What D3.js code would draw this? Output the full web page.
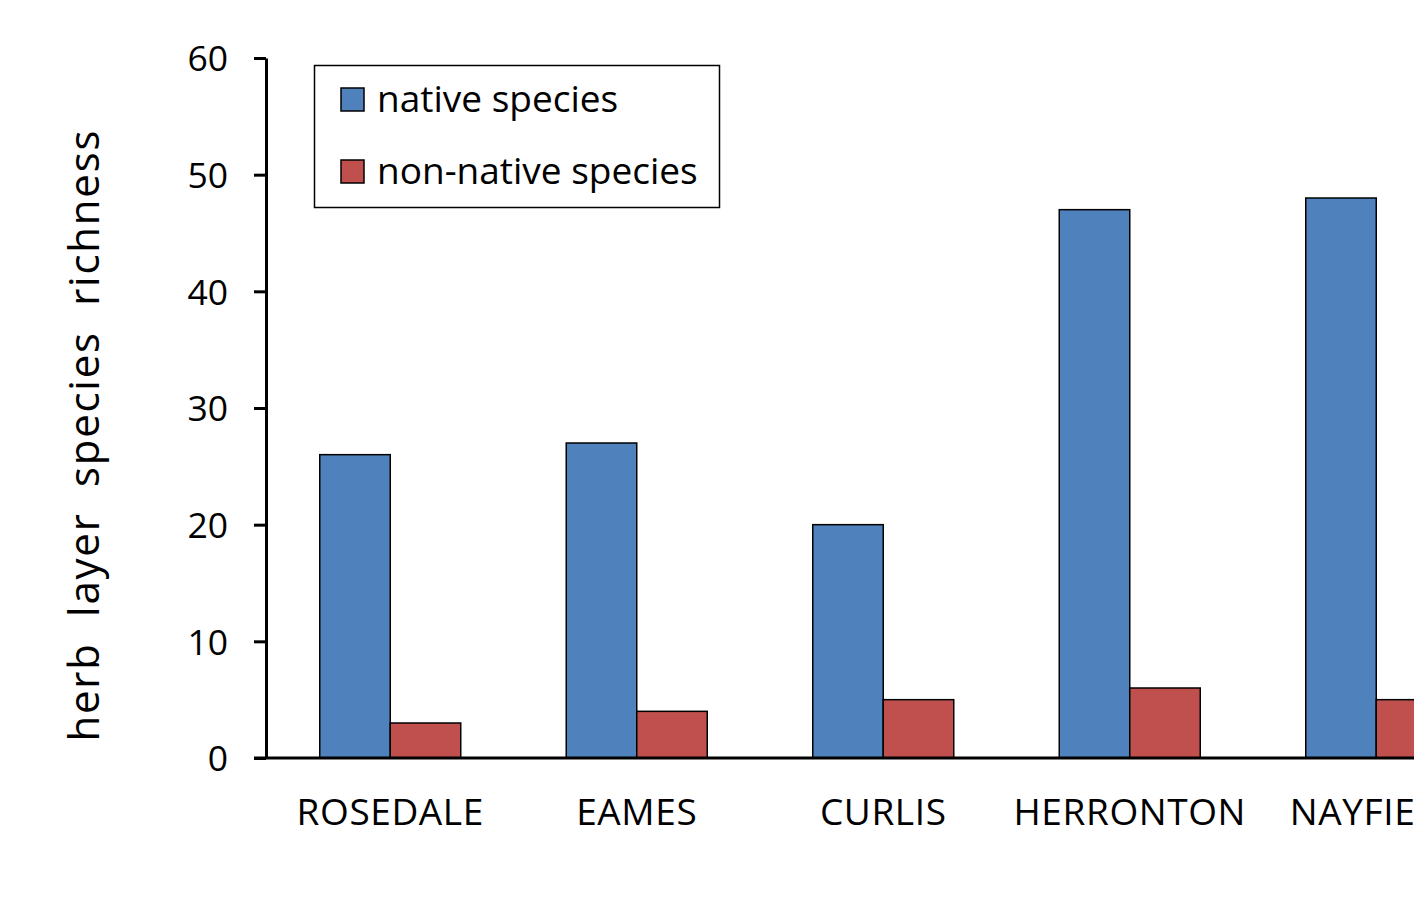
<!DOCTYPE html>
<html>
<head>
<meta charset="utf-8">
<script src="https://cdn.jsdelivr.net/npm/d3@7"></script>
<style>
  html, body { margin: 0; padding: 0; background: #fff; overflow: hidden; }
  svg { display: block; font-family: "Open Sans", Lato, sans-serif; }
</style>
</head>
<body>
<svg id="chart" width="1414" height="900"></svg>
<script>
// Sites and herb-layer species counts
const sites = ["ROSEDALE", "EAMES", "CURLIS", "HERRONTON", "NAYFIELD"];
const seriesNames = ["native species", "non-native species"];
const nativeCounts = [26, 27, 20, 47, 48];
const nonNativeCounts = [3, 4, 5, 6, 5];
const yTicks = [0, 10, 20, 30, 40, 50, 60];
const seriesColors = ["#4F81BD", "#C0504D"];

const svg = d3.select("#chart");
const FONT = "'Open Sans', Lato, sans-serif";

const x0 = 267, step = 246.5;
const x = d3.scaleBand()
  .domain(sites)
  .range([x0, x0 + step * sites.length])
  .paddingInner(0.428)
  .paddingOuter(0.214);

const xs = d3.scaleBand()
  .domain(seriesNames)
  .range([0, x.bandwidth()]);

const y = d3.scaleLinear().domain([0, 60]).range([758, 58]);

const rows = sites.map((s, i) => ({ site: s, values: [nativeCounts[i], nonNativeCounts[i]] }));

// bars
const groups = svg.append("g").selectAll("g")
  .data(rows).join("g")
  .attr("transform", d => `translate(${x(d.site)},0)`);

groups.selectAll("rect")
  .data(d => d.values.map((v, k) => ({ v, k })))
  .join("rect")
  .attr("x", d => xs(seriesNames[d.k]))
  .attr("width", xs.bandwidth())
  .attr("y", d => y(d.v))
  .attr("height", d => y(0) - y(d.v))
  .attr("fill", d => seriesColors[d.k])
  .attr("stroke", "#000")
  .attr("stroke-width", 1.5);

// y axis
const yAxis = svg.append("g")
  .attr("transform", "translate(266,0)")
  .call(d3.axisLeft(y).tickValues(yTicks).tickSize(12).tickSizeOuter(0).tickPadding(26));
yAxis.select(".domain").attr("stroke", "#000").attr("stroke-width", 3);
yAxis.selectAll(".tick line").attr("stroke", "#000").attr("stroke-width", 3);
yAxis.selectAll(".tick text")
  .attr("font-size", 35.5)
  .attr("font-family", FONT)
  .attr("fill", "#000")
  .attr("dy", "0.36em");

// x axis baseline and site labels
const xAxis = svg.append("g")
  .attr("transform", `translate(0,${y(0)})`)
  .call(d3.axisBottom(x).tickSize(0).tickPadding(0));
xAxis.select(".domain").remove();
xAxis.append("line")
  .attr("x1", 254).attr("x2", 1414)
  .attr("stroke", "#000").attr("stroke-width", 3);
xAxis.selectAll(".tick text")
  .attr("font-size", 37)
  .attr("font-family", FONT)
  .attr("letter-spacing", 0.6)
  .attr("fill", "#000")
  .attr("dy", 0)
  .attr("y", 67);

// y axis title
svg.append("text")
  .attr("transform", "translate(99,436) rotate(-90)")
  .attr("text-anchor", "middle")
  .attr("font-size", 42)
  .attr("textLength", 611)
  .attr("lengthAdjust", "spacing")
  .style("white-space", "pre")
  .attr("fill", "#000")
  .text("herb  layer  species  richness");

// legend
const legend = svg.append("g");
legend.append("rect")
  .attr("x", 314.5).attr("y", 65.5)
  .attr("width", 405).attr("height", 142)
  .attr("fill", "#fff").attr("stroke", "#000").attr("stroke-width", 1.5);

const items = legend.selectAll("g.item")
  .data(seriesNames).join("g")
  .attr("class", "item")
  .attr("transform", (d, i) => `translate(341,${88 + i * 72})`);
items.append("rect")
  .attr("width", 23).attr("height", 23)
  .attr("fill", (d, i) => seriesColors[i])
  .attr("stroke", "#000").attr("stroke-width", 1.5);
items.append("text")
  .attr("x", 36).attr("y", 24)
  .attr("font-size", 37)
  .attr("fill", "#000")
  .text(d => d);
</script>
</body>
</html>
